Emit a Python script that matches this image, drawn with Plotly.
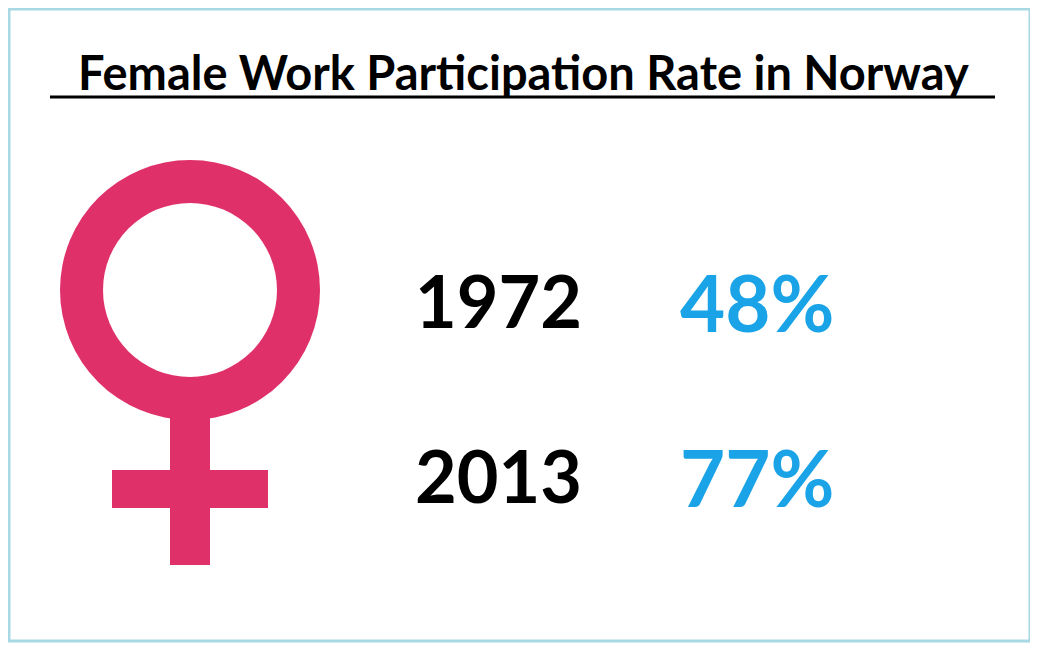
import plotly.graph_objects as go

title = "Female Work Participation Rate in Norway"
years = ["1972", "2013"]
rates = [48, 77]

W, H = 1038, 652
PAD = 8  # page body margin
pink = "#e0306a"
blue = "#1aa3e6"

fig = go.Figure()

# frame and title underline
fig.add_shape(type="rect", x0=9, y0=9, x1=1030, y1=641,
              line=dict(color="#a8d8e3", width=3))
fig.add_shape(type="line", x0=50, y0=97, x1=995, y1=97,
              line=dict(color="black", width=3))

# female symbol
fig.add_shape(type="circle", x0=60, y0=160, x1=320, y1=420,
              fillcolor=pink, line_width=0, layer="below")
fig.add_shape(type="circle", x0=103, y0=203, x1=277, y1=377,
              fillcolor="white", line_width=0)
fig.add_shape(type="rect", x0=170, y0=412, x1=210, y1=565,
              fillcolor=pink, line_width=0)
fig.add_shape(type="rect", x0=112, y0=470, x1=268, y1=508,
              fillcolor=pink, line_width=0)

fig.add_annotation(x=523, y=72, text=f"<b>{title}</b>", showarrow=False,
                   font=dict(family="Lato", size=47, color="black"))

rows_y = [300, 475]
for yr, rate, yy in zip(years, rates, rows_y):
    fig.add_annotation(x=498, y=yy, text=f"<b>{yr}</b>", showarrow=False,
                       font=dict(family="Lato", size=72, color="black"))
    fig.add_annotation(x=757, y=yy + 2, text=f"<b>{rate}%</b>", showarrow=False,
                       font=dict(family="Lato", size=78, color=blue))

fig.update_xaxes(range=[PAD, W - PAD], visible=False, fixedrange=True)
fig.update_yaxes(range=[H - PAD, PAD], visible=False, fixedrange=True)
fig.update_layout(width=W - 2 * PAD, height=H - 2 * PAD,
                  margin=dict(l=0, r=0, t=0, b=0),
                  paper_bgcolor="white", plot_bgcolor="white", showlegend=False)

fig.write_html("out.html")
